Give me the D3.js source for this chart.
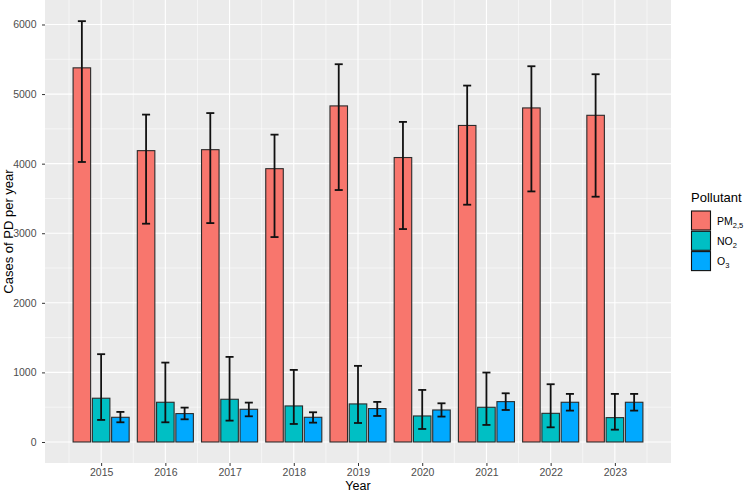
<!DOCTYPE html>
<html><head><meta charset="utf-8">
<script src="https://cdn.jsdelivr.net/npm/d3@7"></script>
<style>body{margin:0;background:#fff}svg{display:block;font-family:"Liberation Sans",Arial,sans-serif}</style>
</head><body><svg id="c" width="744" height="492"></svg>
<script>
const years = [2015,2016,2017,2018,2019,2020,2021,2022,2023];
const pollutants = ["PM2.5","NO2","O3"];
const pmVal = [5377,4187,4201,3928,4830,4088,4549,4801,4695];
const pmLow = [4024,3137,3146,2945,3621,3060,3410,3601,3525];
const pmHigh = [6048,4705,4727,4417,5429,4600,5122,5400,5285];
const no2Val = [629,571,614,518,547,374,499,412,350];
const no2Low = [317,283,307,259,273,187,245,211,177];
const no2High = [1262,1141,1223,1036,1094,748,998,830,691];
const o3Val = [355,408,470,355,480,460,580,571,571];
const o3Low = [283,326,369,278,374,365,460,451,451];
const o3High = [432,494,566,427,576,556,700,691,691];
const yTicks = [0,1000,2000,3000,4000,5000,6000];
const colors = ["#F8766D","#00BFC4","#00A9FF"];

const series = [
  {name:"PM", sub:"2,5", val:pmVal, lo:pmLow, hi:pmHigh},
  {name:"NO", sub:"2", val:no2Val, lo:no2Low, hi:no2High},
  {name:"O", sub:"3", val:o3Val, lo:o3Low, hi:o3High}
];

const svg = d3.select("#c");
const L=45, R=671, T=0, B=463;
const x = d3.scaleLinear().domain([2014.126, 2023.874]).range([L,R]);
const y = d3.scaleLinear().domain([-302, 6352]).range([B,T]);

svg.append("rect").attr("x",L).attr("y",T).attr("width",R-L).attr("height",B-T).attr("fill","#EBEBEB");
const g = svg.append("g");
// minor grid
d3.range(500,6500,1000).forEach(v=>{ if(y(v)>T) g.append("line").attr("x1",L).attr("x2",R).attr("y1",y(v)).attr("y2",y(v)).attr("stroke","#fff").attr("stroke-width",0.55);});
d3.range(2014.5,2024,1).forEach(v=>g.append("line").attr("y1",T).attr("y2",B).attr("x1",x(v)).attr("x2",x(v)).attr("stroke","#fff").attr("stroke-width",0.55));
yTicks.forEach(v=>g.append("line").attr("x1",L).attr("x2",R).attr("y1",y(v)).attr("y2",y(v)).attr("stroke","#fff").attr("stroke-width",1.1));
years.forEach(v=>g.append("line").attr("y1",T).attr("y2",B).attr("x1",x(v)).attr("x2",x(v)).attr("stroke","#fff").attr("stroke-width",1.1));

const dodge = 0.3, bw = 0.273, cap = 0.125;
series.forEach((s,i)=>{
  const off = (i-1)*dodge;
  years.forEach((yr,j)=>{
    const cx = yr+off;
    svg.append("rect").attr("x",x(cx-bw/2)).attr("width",x(cx+bw/2)-x(cx-bw/2))
      .attr("y",y(s.val[j])).attr("height",y(0)-y(s.val[j]))
      .attr("fill",colors[i]).attr("stroke","#2b2b2b").attr("stroke-width",1.1);
  });
});
series.forEach((s,i)=>{
  const off = (i-1)*dodge;
  years.forEach((yr,j)=>{
    const cx = yr+off;
    const eg = svg.append("g").attr("stroke","#111").attr("stroke-width",1.8).attr("fill","none");
    eg.append("line").attr("x1",x(cx)).attr("x2",x(cx)).attr("y1",y(s.lo[j])).attr("y2",y(s.hi[j]));
    eg.append("line").attr("x1",x(cx-cap/2)).attr("x2",x(cx+cap/2)).attr("y1",y(s.lo[j])).attr("y2",y(s.lo[j]));
    eg.append("line").attr("x1",x(cx-cap/2)).attr("x2",x(cx+cap/2)).attr("y1",y(s.hi[j])).attr("y2",y(s.hi[j]));
  });
});

// axes
const xa = svg.append("g").attr("transform",`translate(0,${B})`)
  .call(d3.axisBottom(x).tickValues(years).tickFormat(d3.format("d")).tickSize(3).tickPadding(2.5));
const ya = svg.append("g").attr("transform",`translate(${L},0)`)
  .call(d3.axisLeft(y).tickValues(yTicks).tickSize(3).tickPadding(5.5).tickFormat(d3.format("d")));
[xa,ya].forEach(a=>{
  a.select(".domain").remove();
  a.selectAll(".tick line").attr("stroke","#333").attr("stroke-width",1);
  a.selectAll(".tick text").attr("fill","#4D4D4D").style("font-size","10.5px");
});
svg.append("text").attr("x",(L+R)/2).attr("y",490).attr("text-anchor","middle").style("font-size","12.5px").attr("fill","#000").text("Year");
svg.append("text").attr("transform",`translate(13,${(T+B)/2}) rotate(-90)`).attr("text-anchor","middle").style("font-size","13px").attr("fill","#000").text("Cases of PD per year");

// legend
const lg = svg.append("g");
lg.append("text").attr("x",691).attr("y",202).style("font-size","13px").attr("fill","#000").text("Pollutant");
series.forEach((s,i)=>{
  const yy = 211 + i*20.3;
  lg.append("rect").attr("x",691.5).attr("y",yy).attr("width",19).attr("height",19).attr("fill",colors[i]).attr("stroke","#111").attr("stroke-width",1.1);
  const t = lg.append("text").attr("x",717).attr("y",yy+13.5).style("font-size","10.5px").attr("fill","#000");
  t.append("tspan").text(s.name);
  t.append("tspan").attr("dy",3).style("font-size","7.5px").text(s.sub);
});
</script></body></html>
